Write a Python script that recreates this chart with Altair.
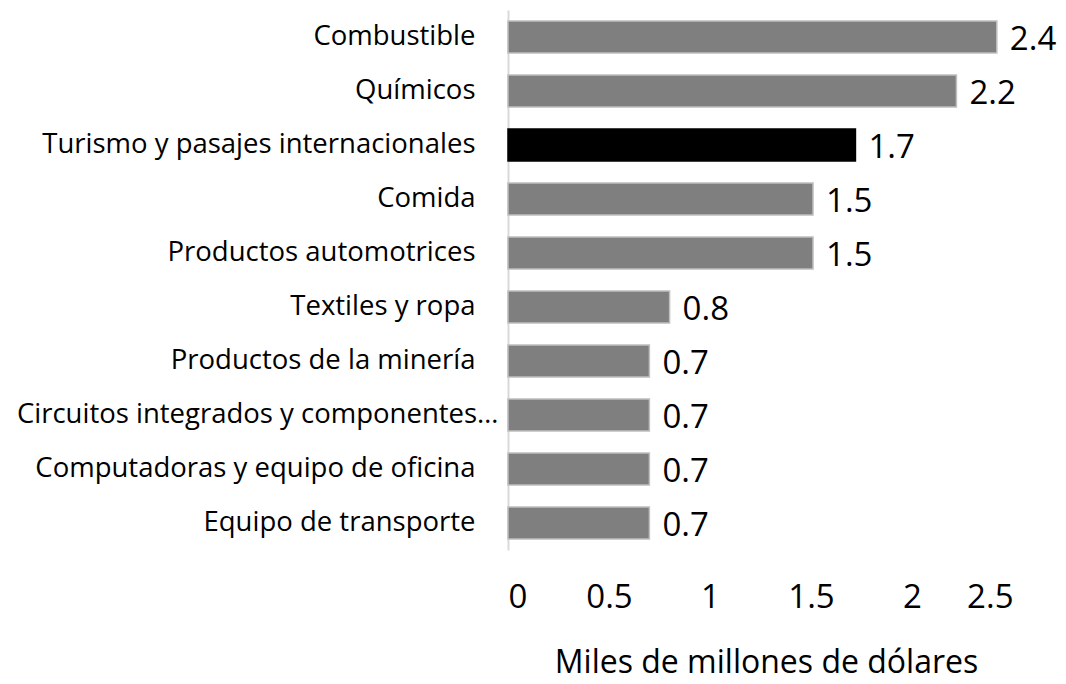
import altair as alt
import pandas as pd

categories = [
    "Combustible",
    "Químicos",
    "Turismo y pasajes internacionales",
    "Comida",
    "Productos automotrices",
    "Textiles y ropa",
    "Productos de la minería",
    "Circuitos integrados y componentes…",
    "Computadoras y equipo de oficina",
    "Equipo de transporte",
]
values = [2.42, 2.22, 1.72, 1.51, 1.51, 0.80, 0.70, 0.70, 0.70, 0.70]
labels = ["2.4", "2.2", "1.7", "1.5", "1.5", "0.8", "0.7", "0.7", "0.7", "0.7"]
highlight = [False, False, True, False, False, False, False, False, False, False]

df = pd.DataFrame({"cat": categories, "val": values, "lab": labels, "hl": highlight})

FONT = "Open Sans"

y = alt.Y(
    "cat:N",
    sort=categories,
    scale=alt.Scale(paddingInner=0.41, paddingOuter=0.205),
    axis=alt.Axis(
        title=None,
        ticks=False,
        labelFont=FONT,
        labelFontSize=27.5,
        labelColor="#000000",
        labelPadding={
            "condition": {"test": "indexof(datum.value, 'Circuitos') == 0", "value": 10},
            "value": 33,
        },
        labelLimit=600,
        domainColor="#d9d9d9",
        domainWidth=2,
    ),
)
x = alt.X(
    "val:Q",
    scale=alt.Scale(domain=[0, 2.5], nice=False),
    axis=alt.Axis(
        title="Miles de millones de dólares",
        values=[0, 0.5, 1, 1.5, 2, 2.5],
        format="~g",
        grid=False,
        ticks=False,
        domain=False,
        labelFont=FONT,
        labelFontSize=33,
        labelColor="#000000",
        labelPadding=31,
        titleFont=FONT,
        titleFontSize=32,
        titleFontWeight="normal",
        titleColor="#000000",
        titlePadding=33,
        titleX=258,
    ),
)

bars = alt.Chart(df).mark_bar(strokeWidth=1.5).encode(
    x=x,
    y=y,
    color=alt.condition("datum.hl", alt.value("#000000"), alt.value("#7f7f7f")),
    stroke=alt.condition("datum.hl", alt.value("#000000"), alt.value("#bfbfbf")),
)

text = alt.Chart(df).mark_text(
    align="left", baseline="middle", dx=13, dy=3, font=FONT, fontSize=33, color="#000000"
).encode(x="val:Q", y=alt.Y("cat:N", sort=categories), text="lab:N")

chart = (
    alt.layer(bars, text)
    .properties(
        width=505,
        height=540,
        autosize=alt.AutoSizeParams(type="none"),
        padding={"left": 500, "top": 2, "right": 45, "bottom": 132},
    )
    .configure_view(stroke=None)
)

chart.save("out.html", embed_options={"renderer": "svg", "actions": False})
